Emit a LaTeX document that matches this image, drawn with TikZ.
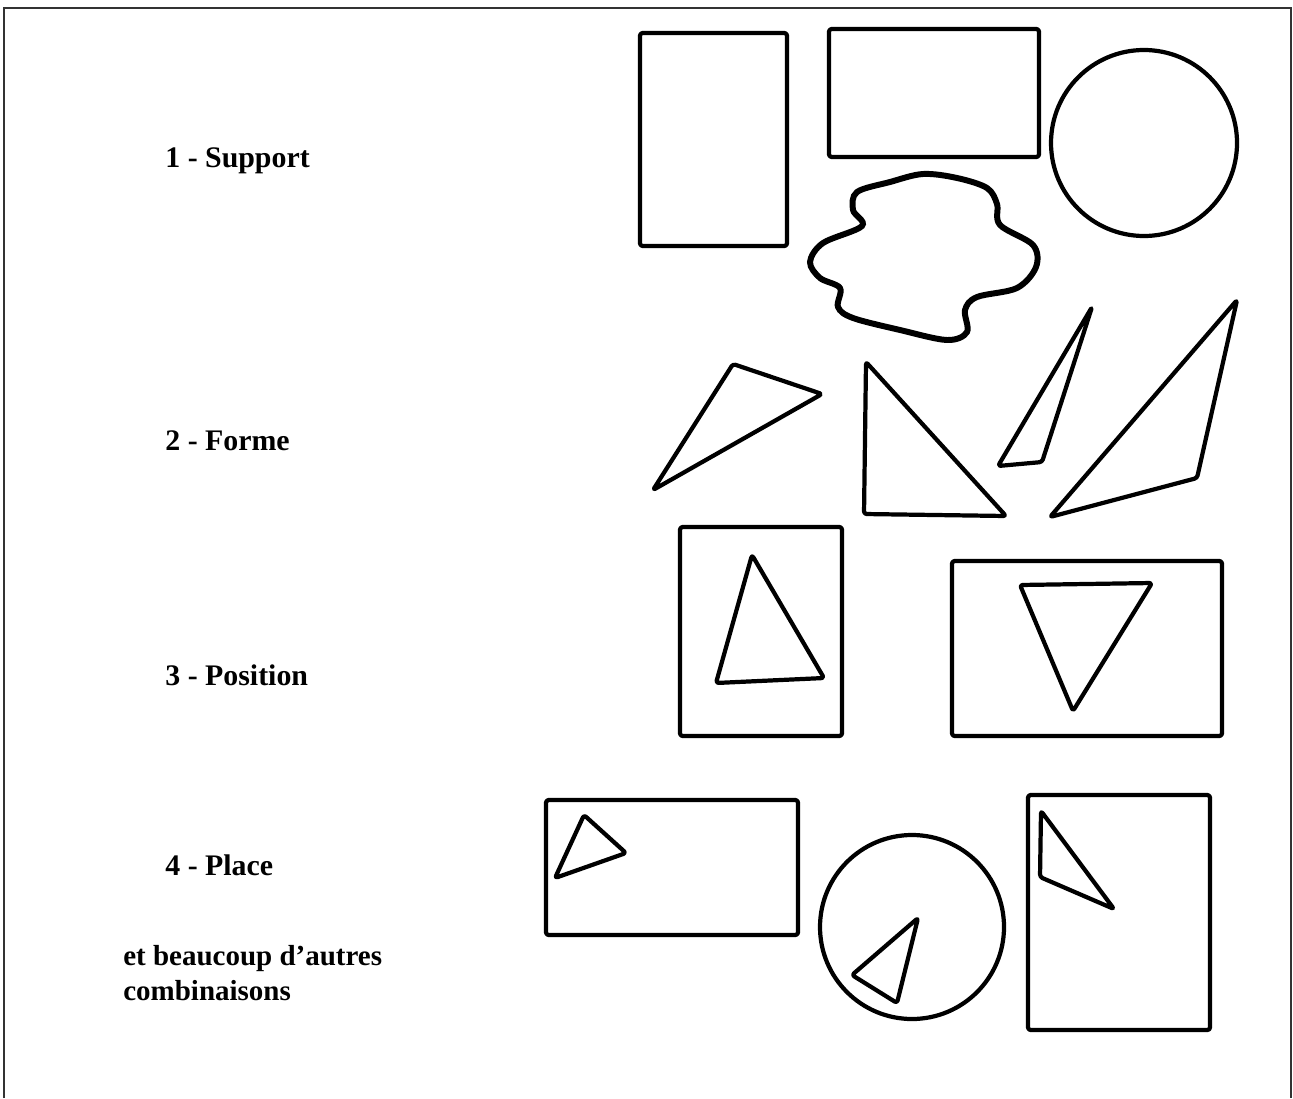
\documentclass[tikz,border=0pt]{standalone}
\usepackage{fontspec}
\setmainfont{Liberation Serif}
\usetikzlibrary{positioning}

\begin{document}
\begin{tikzpicture}[
	x=0.02cm, y=-0.02cm,
	font=\bfseries\fontsize{16.5}{19.5}\selectfont,
	frame/.style={draw=black!80, line width=1pt},
	outline/.style={draw, line width=2.4pt, rounded corners=1.5pt, line join=round},
	blob/.style={draw, line width=3.4pt},
	lbl/.style={anchor=base west, inner sep=0pt, align=left},
	numlbl/.style={lbl, font=\bfseries\fontsize{17}{20}\selectfont},
]

\useasboundingbox (0,0) rectangle (1293,1098);

% --- Cadre ---
\draw[frame] (4,1098) -- (4,8) -- (1291,8) -- (1291,1098);

% --- Libellés ---
\node[numlbl] (support) at (165,168) {1 - Support};
\node[numlbl] (forme) at (165,450) {2 - Forme};
\node[numlbl] (position) at (165,685) {3 - Position};
\node[numlbl] (place) at (165,875) {4 - Place};
\node[lbl] (autres) at (123,1000) {et beaucoup d'autres\\combinaisons};

% --- 1 : supports ---
\draw[outline] (640,33) rectangle (787,246);
\draw[outline] (829,29) rectangle (1039,157);
\draw[outline] (1144,143) circle[radius=93];
\draw[blob] plot[smooth cycle, tension=0.55] coordinates {
	(923,174) (890,182) (857,192) (853,210) (862,226) (823,243) (810,262)
	(820,278) (840,288) (838,307) (853,318) (900,330) (947,340) (967,332)
	(965,310) (977,297) (1017,288) (1036,267) (1033,245) (1000,225)
	(997,204) (987,188) (957,178)};

% --- 2 : formes ---
\draw[outline] (653,490) -- (733,364) -- (822,394) -- cycle;
\draw[outline] (866,362) -- (864,514) -- (1006,516) -- cycle;
\draw[outline] (1092,307) -- (998,466) -- (1042,462) -- cycle;
\draw[outline] (1237,300) -- (1050,517) -- (1197,478) -- cycle;

% --- 3 : positions ---
\draw[outline] (680,527) rectangle (842,736);
\draw[outline] (752,555) -- (716,683) -- (824,678) -- cycle;
\draw[outline] (952,561) rectangle (1222,736);
\draw[outline] (1020,585) -- (1152,583) -- (1073,711) -- cycle;

% --- 4 : places ---
\draw[outline] (546,800) rectangle (798,935);
\draw[outline] (584,815) -- (555,878) -- (626,853) -- cycle;
\draw[outline] (912,927) circle[radius=92];
\draw[outline] (918,918) -- (852,975) -- (897,1003) -- cycle;
\draw[outline] (1028,795) rectangle (1210,1030);
\draw[outline] (1041,811) -- (1040,877) -- (1114,909) -- cycle;

\end{tikzpicture}
\end{document}
